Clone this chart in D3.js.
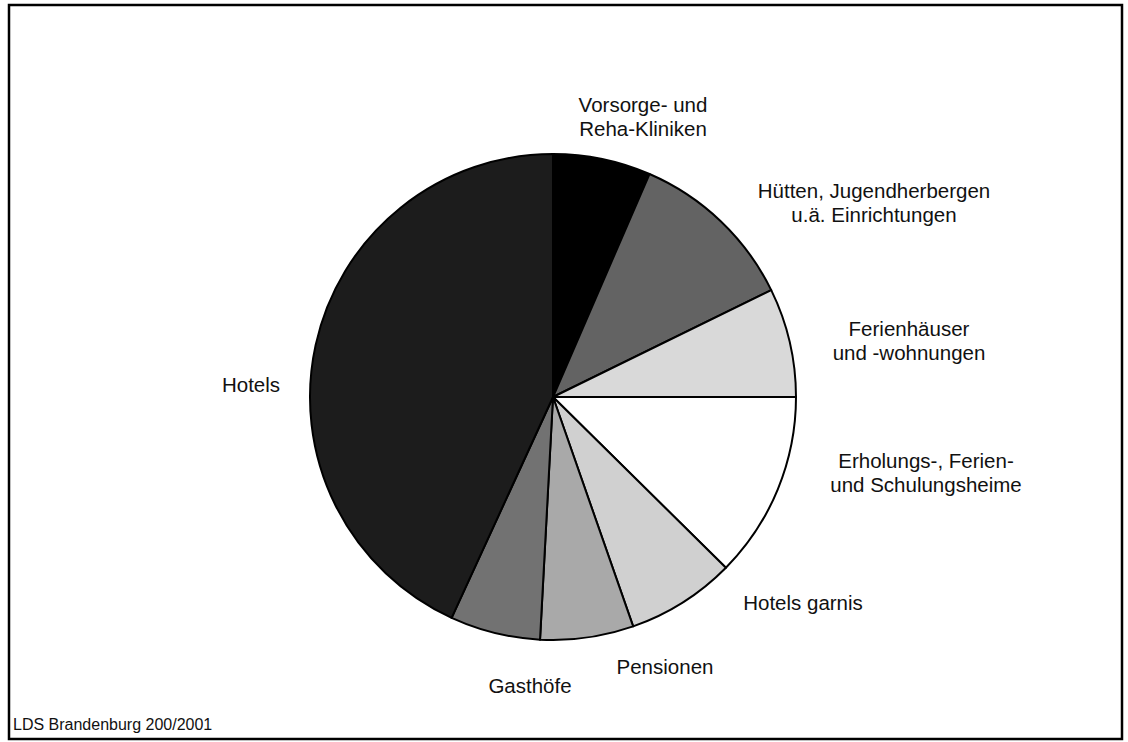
<!DOCTYPE html>
<html>
<head>
<meta charset="utf-8">
<script src="https://cdn.jsdelivr.net/npm/d3@7"></script>
<style>
  html, body { margin: 0; padding: 0; background: #fff; }
  svg { display: block; }
  text { font-family: "Liberation Sans", Arial, sans-serif; fill: #111; }
</style>
</head>
<body>
<svg id="chart" width="1128" height="742"></svg>
<script>
// Data (share of slices, in %)
const categories = ["Vorsorge- und Reha-Kliniken", "Hütten, Jugendherbergen u.ä. Einrichtungen",
  "Ferienhäuser und -wohnungen", "Erholungs-, Ferien- und Schulungsheime", "Hotels garnis",
  "Pensionen", "Gasthöfe", "Hotels"];
const values = [6.5, 11.25, 7.25, 12.4, 7.25, 6.2, 6.0, 43.15];
const labelLines = [
  ["Vorsorge- und", "Reha-Kliniken"],
  ["Hütten, Jugendherbergen", "u.ä. Einrichtungen"],
  ["Ferienhäuser", "und -wohnungen"],
  ["Erholungs-, Ferien-", "und Schulungsheime"],
  ["Hotels garnis"],
  ["Pensionen"],
  ["Gasthöfe"],
  ["Hotels"]
];
const fills = ["#000000", "#636363", "#d9d9d9", "#ffffff", "#d0d0d0", "#a9a9a9", "#727272", "#1c1c1c"];
const source = "LDS Brandenburg 200/2001";

// label placement (layout, not data)
const labelPos = [[643, 112], [874, 198], [909, 336], [926, 468], [803, 610], [665, 674], [530, 693], [251, 392]];

const svg = d3.select("#chart");
svg.append("rect").attr("x", 9).attr("y", 5).attr("width", 1113).attr("height", 734)
  .attr("fill", "none").attr("stroke", "#000").attr("stroke-width", 2.5);

const cx = 553, cy = 397, r = 243;
const pie = d3.pie().sort(null).value(d => d.v);
const arc = d3.arc().innerRadius(0).outerRadius(r);
const data = categories.map((c, i) => ({ c, v: values[i], i }));

const g = svg.append("g").attr("transform", `translate(${cx},${cy})`);
g.selectAll("path").data(pie(data)).join("path")
  .attr("d", arc)
  .attr("fill", d => fills[d.data.i])
  .attr("stroke", "#000").attr("stroke-width", 2).attr("stroke-linejoin", "round");

const lbl = svg.append("g");
labelLines.forEach((lines, i) => {
  const t = lbl.append("text").attr("text-anchor", "middle").attr("font-size", 20.5)
    .attr("x", labelPos[i][0]).attr("y", labelPos[i][1]);
  lines.forEach((ln, j) => {
    t.append("tspan").attr("x", labelPos[i][0]).attr("dy", j === 0 ? 0 : 24).text(ln);
  });
});

svg.append("text").attr("x", 13).attr("y", 730).attr("font-size", 16).text(source);
</script>
</body>
</html>
